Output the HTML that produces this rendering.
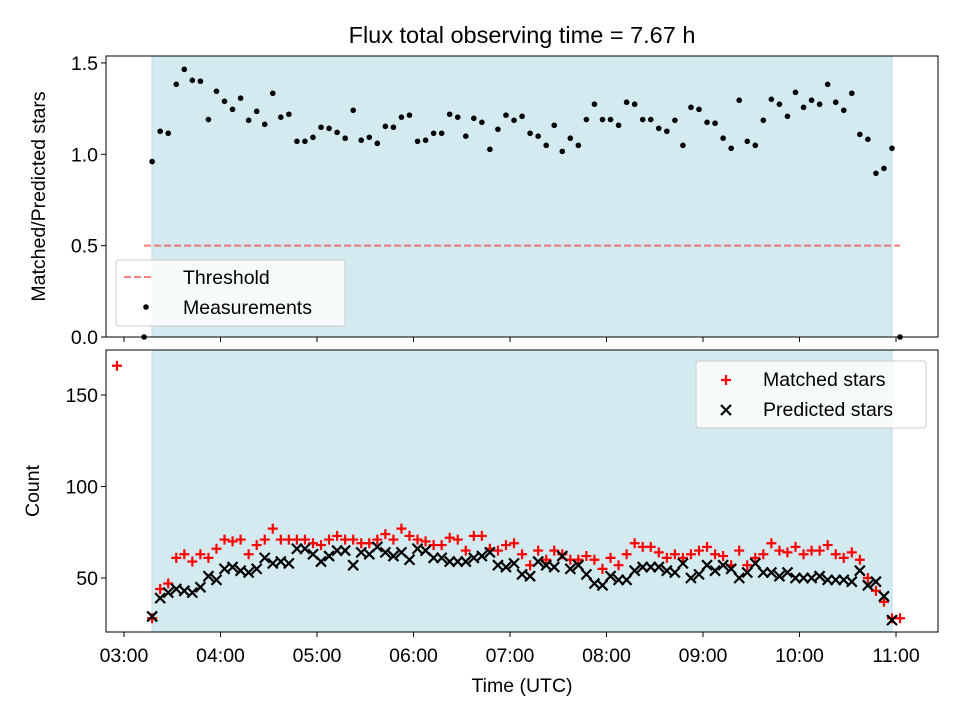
<!DOCTYPE html>
<html><head><meta charset="utf-8"><style>
html,body{margin:0;padding:0;background:#fff}
svg{display:block;font-family:"Liberation Sans","DejaVu Sans",sans-serif}
</style></head><body>
<svg id="fig" width="960" height="720" viewBox="0 0 960 720"></svg>
<script>
// ---- data ----
const startHour = 3 + 12.5/60;      // first top sample 03:12.5
const bottomStartHour = 3 + 17.5/60; // first bottom sample 03:17.5
const stepHours = 5/60;
const ratioValues = [0,
0.96,1.126,1.115,1.383,1.465,1.405,1.40,1.19,1.345,1.29,1.246,1.307,1.186,1.235,1.164,1.334,1.203,1.219,1.071,1.071,1.093,1.148,1.142,1.12,1.088,1.241,1.077,1.093,1.06,1.153,
1.148,1.203,1.214,1.071,1.077,1.115,1.115,1.219,1.203,1.099,1.197,1.175,1.027,1.137,1.214,1.186,1.208,1.115,1.099,1.049,1.159,1.016,1.088,1.049,1.19,1.274,1.19,1.19,1.159,1.285,1.274,1.19,1.19,1.142,
1.126,1.186,1.049,1.257,1.246,1.175,1.17,1.088,1.033,1.296,1.071,1.049,1.186,1.301,1.274,1.208,1.339,1.257,1.296,1.274,1.383,1.285,1.241,1.334,1.109,1.082,0.896,0.923,1.033,
0];
const matchedValues = [28,44,47,61,63,59,63,61,66,71,70,71,63,68,71,77,71,71,71,71,69,68,71,73,71,71,69,69,71,74,
71,77,73,71,70,68,68,72,71,65,73,73,66,65,68,69,63,57,65,60,65,63,60,60,62,60,55,61,57,63,69,67,67,64,
61,63,61,63,65,67,63,62,57,65,57,61,63,69,65,64,67,63,65,65,68,63,61,64,60,50,43,37,28,28];
const predictedValues = [29,39,42,44,43,42,45,51,49,55,56,54,53,55,61,58,59,58,66,66,63,59,62,65,65,57,64,63,67,64,
62,64,60,66,65,61,61,59,59,59,61,62,64,57,56,58,52,51,59,57,56,62,55,57,52,47,46,51,49,49,54,56,56,56,
54,53,58,50,52,57,54,57,55,50,53,58,53,53,51,53,50,50,50,51,49,49,49,48,54,46,48,40,27];
const matchedOutlierTime = [2.927];
const matchedOutlierValue = [166];
const thresholdValue = [0.5];
const shadeRange = [3.29, 10.959];
const xTickHours = [3,4,5,6,7,8,9,10,11];
const xTickLabels = ["03:00","04:00","05:00","06:00","07:00","08:00","09:00","10:00","11:00"];
const topYTicks = [0,0.5,1.0,1.5];
const topYLabels = ["0.0","0.5","1.0","1.5"];
const botYTicks = [50,100,150];
const botYLabels = ["50","100","150"];

// ---- layout ----
const FS = 19.5;
const L=106,R=938, T1=56,B1=337, T2=350,B2=632;
const xMin=2.8135, xMax=11.435;
const x = h => L + (h-xMin)/(xMax-xMin)*(R-L);
const yTop = v => B1 - (v-0)/(1.538-0)*(B1-T1);
const yBot = v => B2 - (v-20.5)/(174.6-20.5)*(B2-T2);
const NS="http://www.w3.org/2000/svg";
const svg=document.getElementById('fig');
function mk(tag, attrs, parent){const e=document.createElementNS(NS,tag);for(const k in attrs)e.setAttribute(k,attrs[k]);(parent||svg).appendChild(e);return e;}
function txt(s,attrs,parent){const e=mk('text',attrs,parent);e.textContent=s;return e;}

// title
const title=txt("Flux total observing time = 7.67 h",{x:522,y:43,'text-anchor':'middle','font-size':'23.5'});



function axesPanel(top,bottom,name,yfn,yt,yl){
  const g=mk('g',{});
  
  
  const sh=mk('rect',{x:x(shadeRange[0]),y:top,width:x(shadeRange[1])-x(shadeRange[0]),height:bottom-top,fill:'#d4eaf1',stroke:'#bfdfea','stroke-width':1},g);
  
  
  yt.forEach((v,i)=>{
    const yy=yfn(v);
    mk('line',{x1:L-5,x2:L,y1:yy,y2:yy,stroke:'#000','stroke-width':1},g);
    const t=txt(yl[i],{x:L-8,y:yy+7,'text-anchor':'end','font-size':FS},g);
    
    
  });
  xTickHours.forEach(h=>{mk('line',{x1:x(h),x2:x(h),y1:bottom,y2:bottom+5,stroke:'#000','stroke-width':1},g);});
  return g;
}
const gTop=axesPanel(T1,B1,'ratio-panel',yTop,topYTicks,topYLabels);
const gBot=axesPanel(T2,B2,'count-panel',yBot,botYTicks,botYLabels);

// threshold
const th=mk('line',{x1:x(startHour),x2:x(startHour+stepHours*(ratioValues.length-1)),y1:yTop(thresholdValue[0]),y2:yTop(thresholdValue[0]),stroke:'#ff0000','stroke-opacity':0.5,'stroke-width':2,'stroke-dasharray':'7,3'},gTop);



// ratio points
ratioValues.forEach((v,i)=>{
  const c=mk('circle',{cx:x(startHour+i*stepHours),cy:yTop(v),r:2.8,fill:'#000'},gTop);
  
  
});

// bottom clip
const defs=mk('defs',{});
const cp=mk('clipPath',{id:'clipB'},defs);
mk('rect',{x:L,y:T2,width:R-L,height:B2-T2},cp);
const gMarks=mk('g',{'clip-path':'url(#clipB)'},gBot);
function plus(cx,cy,parent){return mk('path',{d:`M${cx-5},${cy}H${cx+5}M${cx},${cy-5}V${cy+5}`,stroke:'#ff0000','stroke-width':2.2,fill:'none'},parent);}
function cross(cx,cy,parent){return mk('path',{d:`M${cx-5},${cy-5}L${cx+5},${cy+5}M${cx-5},${cy+5}L${cx+5},${cy-5}`,stroke:'#000','stroke-width':2.2,fill:'none'},parent);}
matchedValues.forEach((v,i)=>{
  const p=plus(x(bottomStartHour+i*stepHours),yBot(v),gMarks);
  
  
});
matchedOutlierTime.forEach((t,i)=>{
  const p=plus(x(t),yBot(matchedOutlierValue[i]),gMarks);
  
  
});
predictedValues.forEach((v,i)=>{
  const p=cross(x(bottomStartHour+i*stepHours),yBot(v),gMarks);
  
  
});

// frames
[[T1,B1],[T2,B2]].forEach(([t,b])=>{
  const f=mk('rect',{x:L,y:t,width:R-L,height:b-t,fill:'none',stroke:'#000','stroke-width':1});
  
  
});

// x tick labels
xTickHours.forEach((h,i)=>{
  const t=txt(xTickLabels[i],{x:x(h),y:B2+30,'text-anchor':'middle','font-size':FS});
  
  
});
const xt=txt("Time (UTC)",{x:522,y:692,'text-anchor':'middle','font-size':FS});


const yt1=txt("Matched/Predicted stars",{x:0,y:0,'text-anchor':'middle','font-size':FS,transform:`translate(45,${(T1+B1)/2}) rotate(-90)`});


const yt2=txt("Count",{x:0,y:0,'text-anchor':'middle','font-size':FS,transform:`translate(39,${(T2+B2)/2}) rotate(-90)`});



// legends
const lg1=mk('g',{});


mk('rect',{x:116,y:260,width:229,height:66,rx:3,fill:'#fff','fill-opacity':0.8,stroke:'#ccc'},lg1);
const le1=mk('line',{x1:124,x2:152,y1:277,y2:277,stroke:'#ff0000','stroke-opacity':0.5,'stroke-width':2,'stroke-dasharray':'7,3'},lg1);


txt("Threshold",{x:183,y:284,'font-size':FS},lg1);
mk('circle',{cx:146,cy:307,r:2.8,fill:'#000'},lg1);
txt("Measurements",{x:183,y:314,'font-size':FS},lg1);

const lg2=mk('g',{});


mk('rect',{x:696,y:361,width:230,height:67,rx:3,fill:'#fff','fill-opacity':0.8,stroke:'#ccc'},lg2);
plus(726,380,lg2);
txt("Matched stars",{x:763,y:386,'font-size':FS},lg2);
cross(726,410,lg2);
txt("Predicted stars",{x:763,y:416,'font-size':FS},lg2);
</script>
</body></html>
